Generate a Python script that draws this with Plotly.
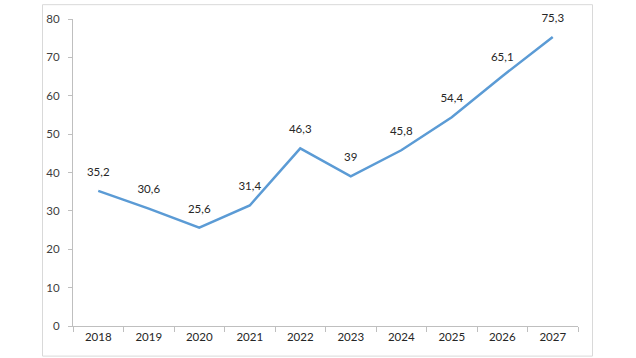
import plotly.graph_objects as go

years = ["2018", "2019", "2020", "2021", "2022", "2023", "2024", "2025", "2026", "2027"]
values = [35.2, 30.6, 25.6, 31.4, 46.3, 39, 45.8, 54.4, 65.1, 75.3]
labels = [str(v).replace(".", ",") for v in values]
y_ticks = [0, 10, 20, 30, 40, 50, 60, 70, 80]

W, H = 636, 358
L, R, T, B = 73, 58, 15, 32
pw, ph = W - L - R, H - T - B

def px_x(x):
    return (x - L) / pw

def px_y(y):
    return (H - B - y) / ph

fig = go.Figure()
fig.add_trace(go.Scatter(
    x=years, y=values, text=labels,
    mode="lines+markers+text", textposition="top center",
    line=dict(color="#5B9BD5", width=2.5),
    marker=dict(size=18, color="rgba(0,0,0,0)"),
    textfont=dict(family="Lato, Carlito, sans-serif", size=11.5, color="#262626"),
    cliponaxis=False, hoverinfo="skip", showlegend=False,
))

fig.update_layout(
    width=W, height=H,
    margin=dict(l=L, r=R, t=T, b=B),
    paper_bgcolor="white", plot_bgcolor="white",
    font=dict(family="Lato, Carlito, sans-serif", size=11.5, color="#595959"),
    xaxis=dict(
        type="category", tickson="boundaries", ticks="outside", ticklen=5,
        tickcolor="#bfbfbf", showline=True, linecolor="#bfbfbf", linewidth=1,
        showgrid=False, zeroline=False, range=[-0.5, 9.5],
        tickfont=dict(color="#262626", size=11.5),
    ),
    yaxis=dict(
        range=[0, 80], tickvals=y_ticks, ticks="outside", ticklen=4,
        tickcolor="#bfbfbf", showline=True, linecolor="#bfbfbf", linewidth=1,
        showgrid=False, zeroline=False, ticklabelstandoff=6,
        tickfont=dict(color="#404040", size=11.5),
    ),
    shapes=[dict(
        type="rect", xref="paper", yref="paper",
        x0=px_x(42.5), x1=px_x(592.5), y0=px_y(356.5), y1=px_y(0.5),
        line=dict(color="#d9d9d9", width=1), fillcolor="rgba(0,0,0,0)", layer="below",
    )],
)

fig.write_html(
    "out.html",
    config={"displayModeBar": False},
    post_script="document.body.style.margin='0';document.body.style.overflow='hidden';",
)
